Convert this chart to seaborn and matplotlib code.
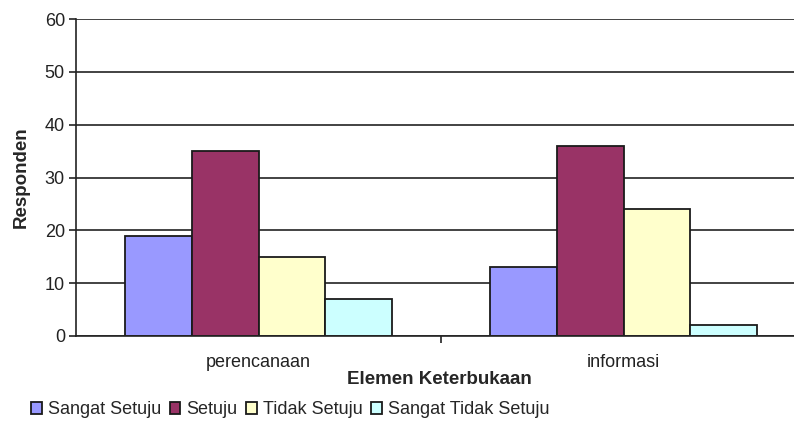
import matplotlib
matplotlib.use("Agg")
import matplotlib.pyplot as plt
import seaborn as sns
import pandas as pd

categories = ["perencanaan", "informasi"]
series = ["Sangat Setuju", "Setuju", "Tidak Setuju", "Sangat Tidak Setuju"]
sangat_setuju = [19, 13]
setuju = [35, 36]
tidak_setuju = [15, 24]
sangat_tidak_setuju = [7, 2]
colors = ["#9999FF", "#993366", "#FFFFCC", "#CCFFFF"]

rows = []
for name, vals in zip(series, [sangat_setuju, setuju, tidak_setuju, sangat_tidak_setuju]):
    for cat, v in zip(categories, vals):
        rows.append({"Elemen": cat, "Seri": name, "Responden": v})
df = pd.DataFrame(rows)

sns.set_style("white")
plt.rcParams["font.family"] = ["Liberation Sans", "DejaVu Sans"]

fig = plt.figure(figsize=(7.94, 4.21), dpi=100)
W, H = 794, 421
ax = fig.add_axes([76 / W, 1 - 336 / H, (794 - 76) / W, (336 - 19) / H])

sns.barplot(data=df, x="Elemen", y="Responden", hue="Seri", hue_order=series,
            order=categories, palette=colors, width=0.73, gap=0,
            edgecolor="#1a1a1a", linewidth=1.3, saturation=1, ax=ax, legend=True)

ax.set_ylim(0, 60)
ax.set_xlim(-0.5, -0.5 + (794 - 76) / 365)
ax.set_yticks(range(0, 61, 10))
ax.yaxis.grid(True, color="#222222", linewidth=1.2)
ax.set_axisbelow(True)
for s in ["top", "right"]:
    ax.spines[s].set_visible(False)
for s in ["left", "bottom"]:
    ax.spines[s].set_color("#222222")
    ax.spines[s].set_linewidth(1.2)

ax.tick_params(axis="y", which="major", length=5, width=1.2, color="#222222",
               labelsize=13, labelcolor="#222222", pad=3, left=True)
ax.tick_params(axis="x", which="major", length=0, labelsize=13, labelcolor="#222222", pad=13)
ax.set_xticks([0.5], minor=True)
ax.tick_params(axis="x", which="minor", length=5, width=1.2, color="#222222", bottom=True)

ax.set_ylabel("Responden", fontsize=13.5, fontweight="bold", labelpad=11)
ax.set_xlabel("")
fig.text(439 / W, 1 - 380 / H, "Elemen Keterbukaan", ha="center", va="center",
         fontsize=13.5, fontweight="bold")

handles, labels = ax.get_legend_handles_labels()
ax.legend_.remove()
fig.legend(handles, labels, loc="center left", bbox_to_anchor=(31 / W, 1 - 410 / H),
           ncol=4, frameon=False, fontsize=13, handlelength=0.6, handleheight=0.6,
           handletextpad=0.35, columnspacing=0.45, borderaxespad=0, borderpad=0)

fig.savefig("out.png", dpi=100)
